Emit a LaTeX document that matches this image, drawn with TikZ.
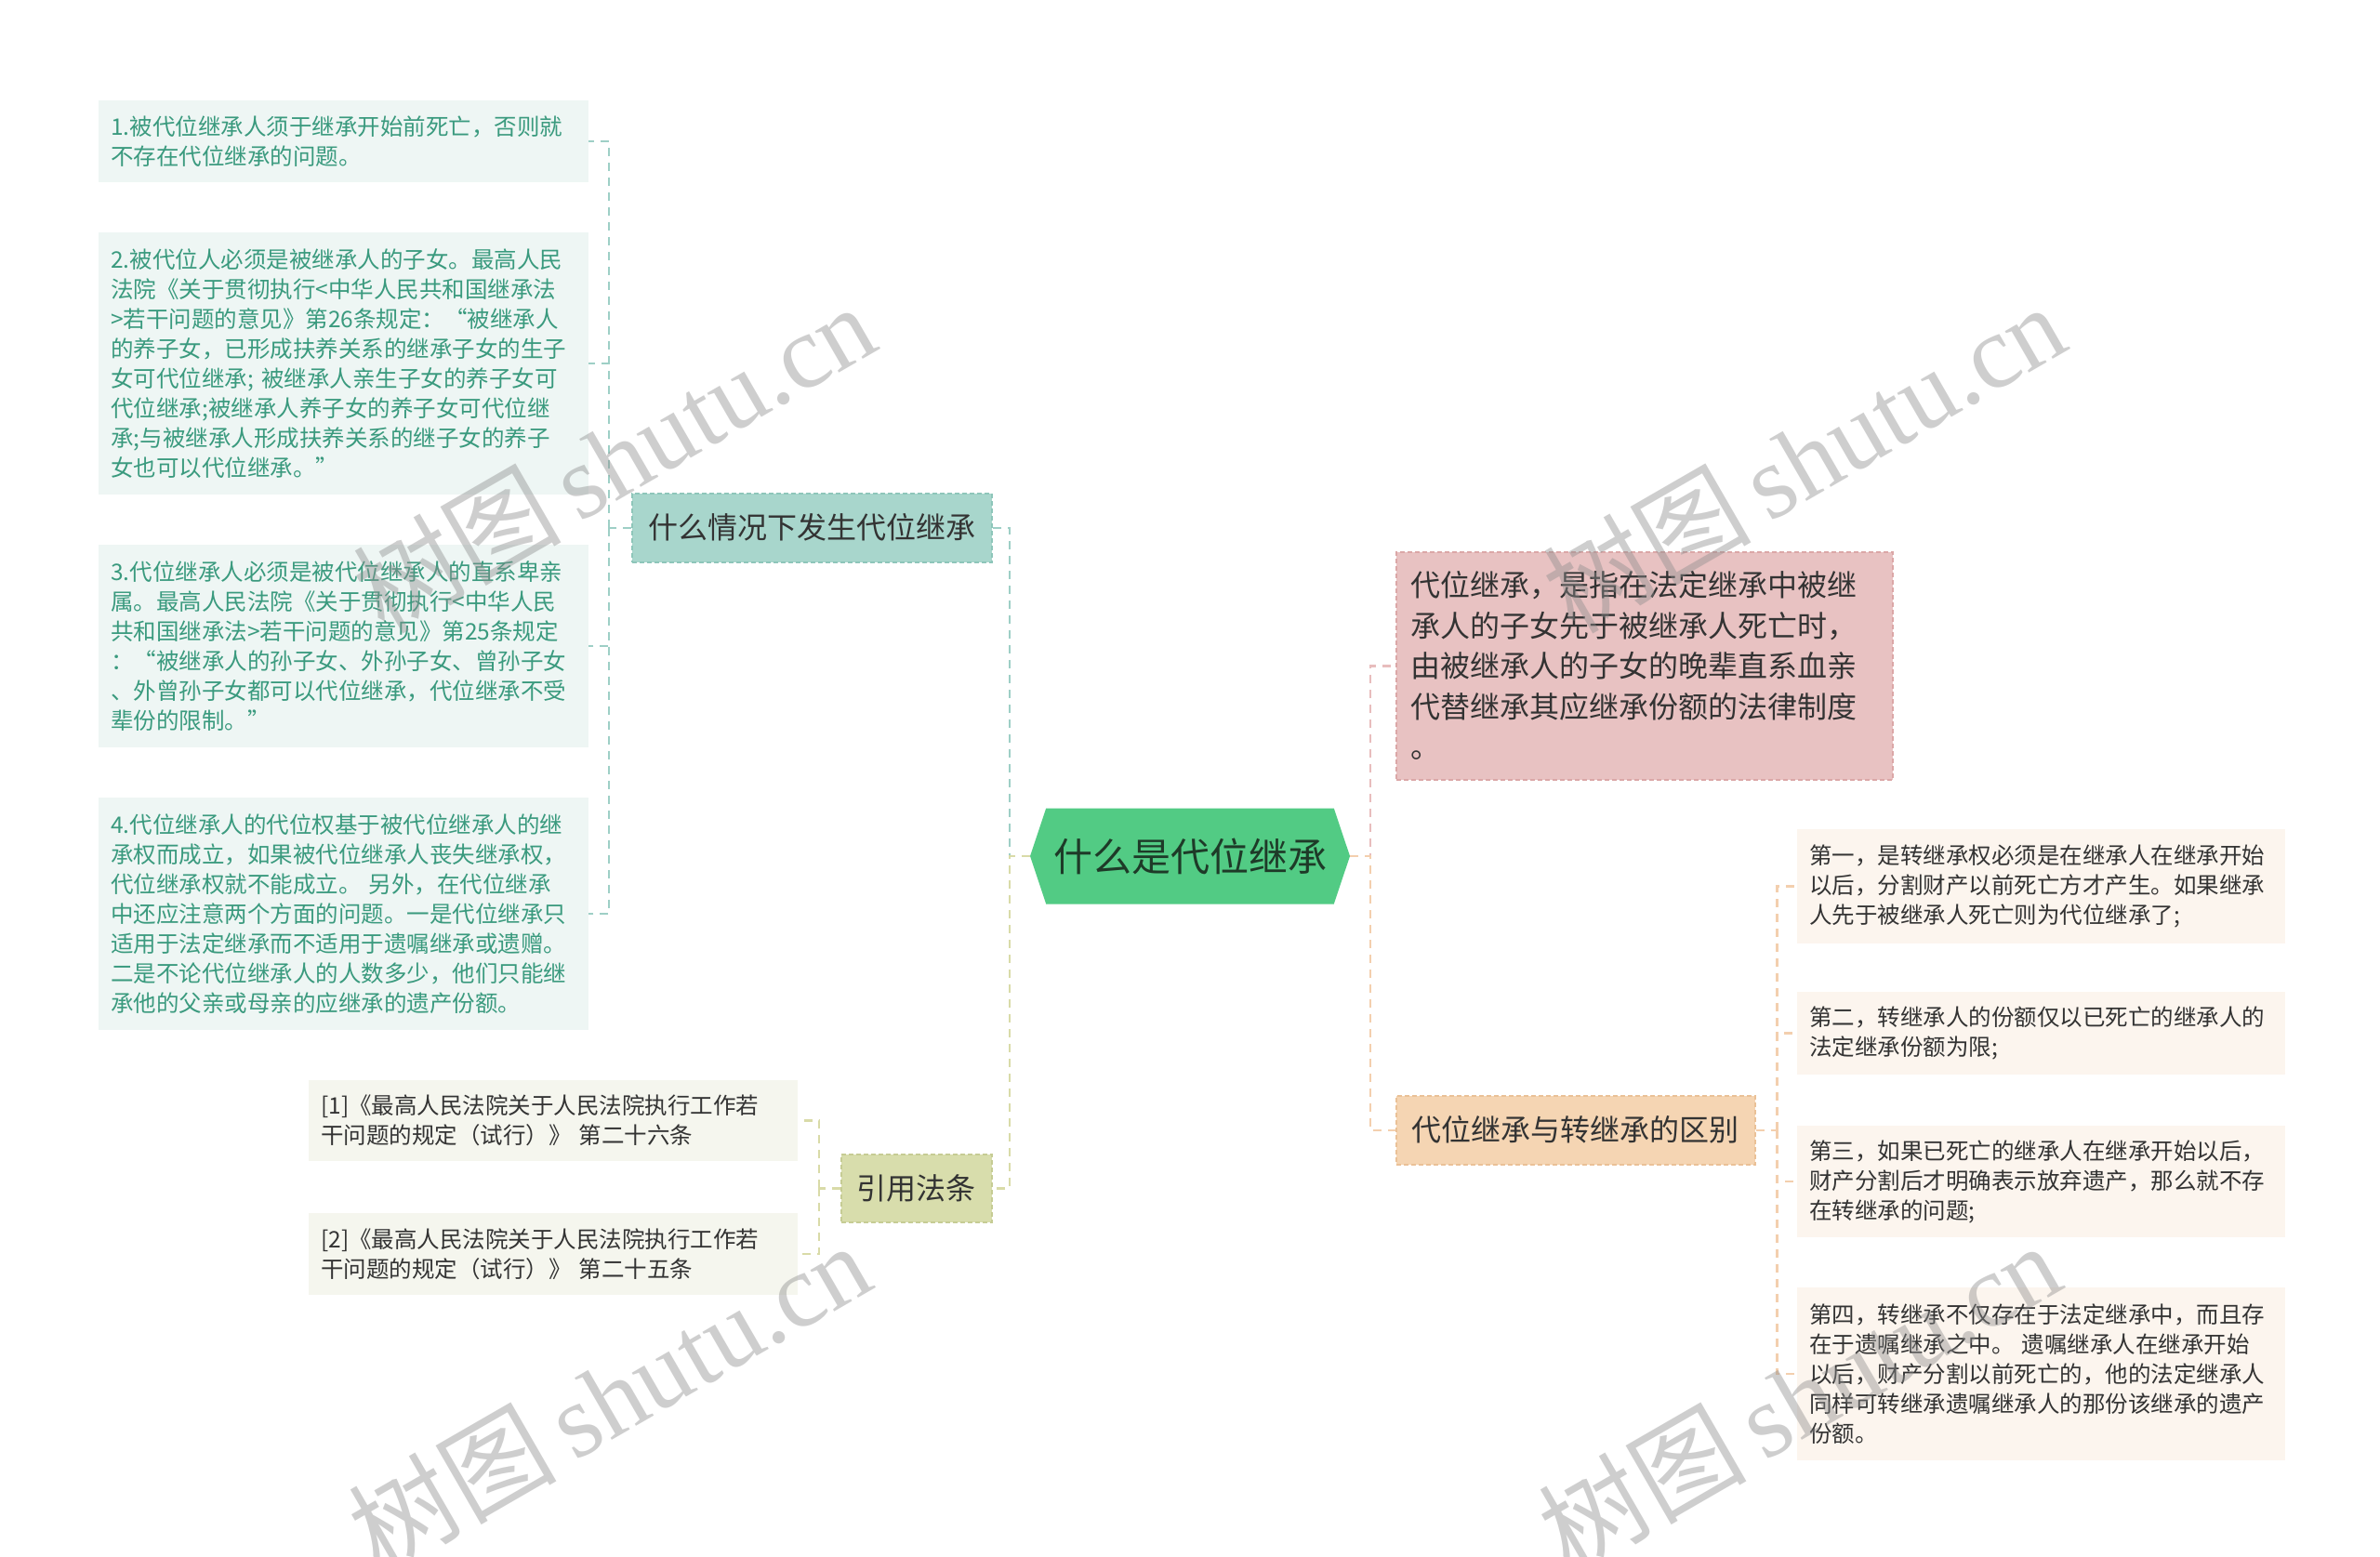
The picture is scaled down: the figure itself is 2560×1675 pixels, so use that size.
\documentclass[tikz,border=0pt]{standalone}
\usepackage{fontspec}
\setmainfont{Noto Sans CJK SC}
\newfontfamily\wmlatin{Liberation Serif}
\newfontfamily\wmcjk{Noto Sans CJK SC}
\usetikzlibrary{shapes.symbols}
\definecolor{rootfill}{HTML}{52CB84}
\definecolor{roottext}{HTML}{1E3A28}
\definecolor{tealfill}{HTML}{A8D6CC}
\definecolor{tealborder}{HTML}{8EC6BA}
\definecolor{tealline}{HTML}{9ECFC6}
\definecolor{olivefill}{HTML}{D8DDAC}
\definecolor{oliveborder}{HTML}{C6CC94}
\definecolor{oliveline}{HTML}{D9DBA8}
\definecolor{pinkfill}{HTML}{E8C2C2}
\definecolor{pinkborder}{HTML}{DBA7A7}
\definecolor{pinkline}{HTML}{E8BDBD}
\definecolor{orfill}{HTML}{F5D5B3}
\definecolor{orborder}{HTML}{EAC197}
\definecolor{orline}{HTML}{F3CFAE}
\definecolor{leafLfill}{HTML}{EEF6F4}
\definecolor{leafLtext}{HTML}{3A9A7E}
\definecolor{leafCfill}{HTML}{F5F6EE}
\definecolor{leafRfill}{HTML}{FCF5EE}
\definecolor{darktext}{HTML}{333333}
\definecolor{wmgray}{HTML}{8C8C8C}
\begin{document}
\begin{tikzpicture}[x=1pt,y=-1pt,
  leafbase/.style={anchor=north west, align=left, inner xsep=13pt, inner ysep=0pt,
    font=\fontsize{24.5}{32}\selectfont},
  leafL/.style={leafbase, fill=leafLfill, text=leafLtext, text width=501pt},
  leafC/.style={leafbase, fill=leafCfill, text=darktext, text width=500pt},
  leafR/.style={leafbase, fill=leafRfill, text=darktext, text width=499pt},
  branch/.style={anchor=north west, inner sep=0pt, text=darktext,
    font=\fontsize{32}{40}\selectfont, line width=1.5pt, dash pattern=on 5pt off 3pt},
  conn/.style={line width=2.5pt, dash pattern=on 9pt off 7pt},
  wm/.style={text=wmgray, opacity=0.42, rotate=30, inner sep=0pt}
]
\useasboundingbox (0,0) rectangle (2560,1675);
\fill[white] (0,0) rectangle (2560,1675);

% ---------- root ----------
\node[signal, signal to=west and east, signal pointer angle=143,
  fill=rootfill, text=roottext, minimum width=344pt, minimum height=103pt,
  inner sep=0pt, font=\fontsize{42}{50}\selectfont] (root) at (1280,921) {什么是代位继承};

% ---------- left branch 1 ----------
\node[branch, fill=tealfill, draw=tealborder, minimum width=387pt, minimum height=74pt]
  (b1) at (679,530) {什么情况下发生代位继承};

\node[leafL, minimum height=88pt] (l1) at (106,108)
  {1.被代位继承人须于继承开始前死亡，否则就\\不存在代位继承的问题。};
\node[leafL, minimum height=282pt] (l2) at (106,250)
  {2.被代位人必须是被继承人的子女。最高人民\\法院《关于贯彻执行<中华人民共和国继承法\\>若干问题的意见》第26条规定：“被继承人\\的养子女，已形成扶养关系的继承子女的生子\\女可代位继承; 被继承人亲生子女的养子女可\\代位继承;被继承人养子女的养子女可代位继\\承;与被继承人形成扶养关系的继子女的养子\\女也可以代位继承。”};
\node[leafL, minimum height=218pt] (l3) at (106,586)
  {3.代位继承人必须是被代位继承人的直系卑亲\\属。最高人民法院《关于贯彻执行<中华人民\\共和国继承法>若干问题的意见》第25条规定\\：“被继承人的孙子女、外孙子女、曾孙子女\\、外曾孙子女都可以代位继承，代位继承不受\\辈份的限制。”};
\node[leafL, minimum height=250pt] (l4) at (106,858)
  {4.代位继承人的代位权基于被代位继承人的继\\承权而成立，如果被代位继承人丧失继承权，\\代位继承权就不能成立。 另外，在代位继承\\中还应注意两个方面的问题。一是代位继承只\\适用于法定继承而不适用于遗嘱继承或遗赠。\\二是不论代位继承人的人数多少，他们只能继\\承他的父亲或母亲的应继承的遗产份额。};

% ---------- left branch 2 ----------
\node[branch, fill=olivefill, draw=oliveborder, minimum width=162pt, minimum height=73pt]
  (cit) at (904,1241) {引用法条};
\node[leafC, minimum height=87pt] (c1) at (332,1162)
  {[1]《最高人民法院关于人民法院执行工作若\\干问题的规定（试行）》 第二十六条};
\node[leafC, minimum height=88pt] (c2) at (332,1305)
  {[2]《最高人民法院关于人民法院执行工作若\\干问题的规定（试行）》 第二十五条};

% ---------- right branch 1 ----------
\node[anchor=north west, fill=pinkfill, draw=pinkborder, line width=1.5pt,
  dash pattern=on 5pt off 3pt, text=darktext, align=left,
  inner xsep=16pt, inner ysep=0pt, text width=502pt, minimum height=245pt,
  font=\fontsize{32}{43.5}\selectfont] (pink) at (1501,593)
  {代位继承，是指在法定继承中被继\\承人的子女先于被继承人死亡时，\\由被继承人的子女的晚辈直系血亲\\代替继承其应继承份额的法律制度\\。};

% ---------- right branch 2 ----------
\node[branch, fill=orfill, draw=orborder, minimum width=386pt, minimum height=74pt]
  (orng) at (1501,1178) {代位继承与转继承的区别};
\node[leafR, minimum height=123pt] (r1) at (1933,892)
  {第一，是转继承权必须是在继承人在继承开始\\以后，分割财产以前死亡方才产生。如果继承\\人先于被继承人死亡则为代位继承了;};
\node[leafR, minimum height=89pt] (r2) at (1933,1067)
  {第二，转继承人的份额仅以已死亡的继承人的\\法定继承份额为限;};
\node[leafR, minimum height=120pt] (r3) at (1933,1211)
  {第三，如果已死亡的继承人在继承开始以后，\\财产分割后才明确表示放弃遗产，那么就不存\\在转继承的问题;};
\node[leafR, minimum height=186pt] (r4) at (1933,1385)
  {第四，转继承不仅存在于法定继承中，而且存\\在于遗嘱继承之中。 遗嘱继承人在继承开始\\以后，财产分割以前死亡的，他的法定继承人\\同样可转继承遗嘱继承人的那份该继承的遗产\\份额。};

% ---------- junction points ----------
\coordinate (jA) at ([xshift=-22pt]root.west);
\coordinate (jB) at ([xshift=22pt]root.east);
\coordinate (jL) at ([xshift=-24pt]b1.west);
\coordinate (jC) at ([xshift=-23pt]cit.west);
\coordinate (jD) at ([xshift=23pt]orng.east);

% ---------- connectors ----------
\draw[conn, tealline] (root.west) -- (jA) |- (b1.east);
\draw[conn, oliveline] (root.west) -- (jA) |- (cit.east);
\draw[conn, pinkline] (root.east) -- (jB) |- (pink.west);
\draw[conn, orline] (root.east) -- (jB) |- (orng.west);

\draw[conn, tealline] (b1.west) -- (jL);
\foreach \n in {l1,l2,l3,l4} \draw[conn, tealline] (jL) |- (\n.east);

\draw[conn, oliveline] (cit.west) -- (jC);
\foreach \n in {c1,c2} \draw[conn, oliveline] (jC) |- (\n.east);

\draw[conn, orline] (orng.east) -- (jD);
\foreach \n in {r1,r2,r3,r4} \draw[conn, orline] (jD) |- (\n.west);

% ---------- watermarks ----------
\foreach \cx/\cy in {660/492, 1940/492, 655/1502, 1935/1502}
  \node[wm] at (\cx,\cy) {\wmcjk\fontsize{112}{112}\selectfont 树图\,\wmlatin shutu.cn};
\end{tikzpicture}
\end{document}
